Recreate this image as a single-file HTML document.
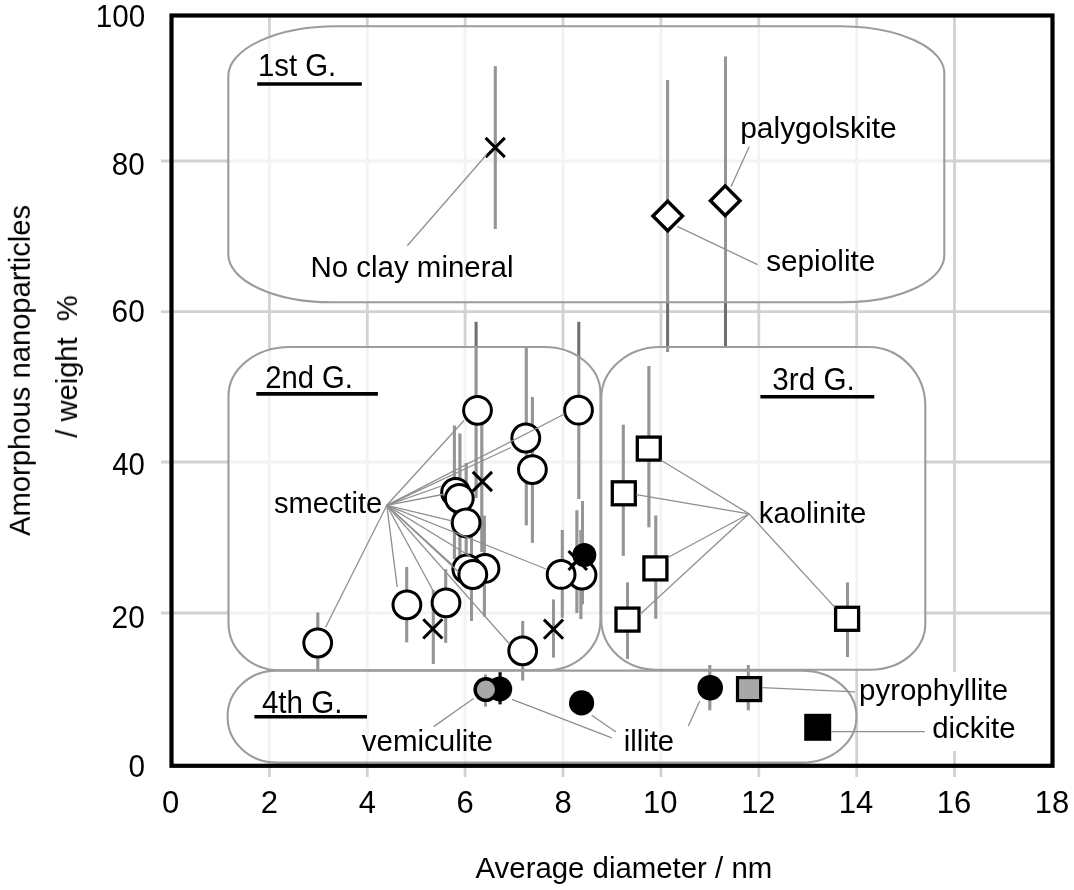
<!DOCTYPE html>
<html><head><meta charset="utf-8"><style>
html,body{margin:0;padding:0;background:#fff;}
body{width:1074px;height:890px;position:relative;overflow:hidden;}
</style></head><body>
<svg width="1074" height="890" viewBox="0 0 1074 890" style="position:absolute;left:0;top:0;filter:blur(0.45px)"><defs><clipPath id="bx"><path d="M336.3,26.2 L840.3,26.2 A104,47 0 0 1 944.3,73.2 L944.3,255.3 A101,47 0 0 1 843.3,302.3 L331.3,302.3 A103,48 0 0 1 228.3,254.3 L228.3,76.2 A108,50 0 0 1 336.3,26.2Z"/><path d="M289.5,347.0 L544.4,347.0 A56,46 0 0 1 600.4,393.0 L600.4,620.3 A55,50 0 0 1 545.4,670.3 L279.5,670.3 A51,47 0 0 1 228.5,623.3 L228.5,396.0 A61,49 0 0 1 289.5,347.0Z"/><path d="M660.3,347.0 L868.3,347.0 A57,59 0 0 1 925.3,406.0 L925.3,623.8 A55,46 0 0 1 870.3,669.8 L656.3,669.8 A55,50 0 0 1 601.3,619.8 L601.3,398.0 A59,51 0 0 1 660.3,347.0Z"/><path d="M276.6,670.6 L801.9,670.6 A54.5,45.5 0 0 1 856.4,716.1 L856.4,717.1 A54.5,45.5 0 0 1 801.9,762.6 L276.6,762.6 A49,45.5 0 0 1 227.6,717.1 L227.6,716.1 A49,45.5 0 0 1 276.6,670.6Z"/></clipPath></defs><g stroke="#d2d2d2" stroke-width="2.8"><line x1="161" y1="161.0" x2="1052.5" y2="161.0"/><line x1="161" y1="311.6" x2="1052.5" y2="311.6"/><line x1="161" y1="462.0" x2="1052.5" y2="462.0"/><line x1="161" y1="613.0" x2="1052.5" y2="613.0"/><line x1="269.4" y1="15.5" x2="269.4" y2="777"/><line x1="367.3" y1="15.5" x2="367.3" y2="777"/><line x1="465.1" y1="15.5" x2="465.1" y2="777"/><line x1="563.0" y1="15.5" x2="563.0" y2="777"/><line x1="660.9" y1="15.5" x2="660.9" y2="777"/><line x1="758.8" y1="15.5" x2="758.8" y2="777"/><line x1="856.7" y1="15.5" x2="856.7" y2="777"/><line x1="954.5" y1="15.5" x2="954.5" y2="777"/></g><g stroke="#6e6e6e" stroke-width="3"><line x1="495.3" y1="66.2" x2="495.3" y2="229.0"/><line x1="667.6" y1="80.0" x2="667.6" y2="352.0"/><line x1="725.5" y1="56.4" x2="725.5" y2="347.0"/><line x1="476.1" y1="321.8" x2="476.1" y2="498.0"/><line x1="481.8" y1="419.3" x2="481.8" y2="551.9"/><line x1="454.4" y1="425.6" x2="454.4" y2="559.0"/><line x1="459.9" y1="433.5" x2="459.9" y2="563.0"/><line x1="466.2" y1="463.0" x2="466.2" y2="583.0"/><line x1="471.5" y1="530.0" x2="471.5" y2="621.0"/><line x1="484.4" y1="515.7" x2="484.4" y2="616.5"/><line x1="445.7" y1="569.2" x2="445.7" y2="642.8"/><line x1="433.3" y1="590.0" x2="433.3" y2="664.1"/><line x1="406.7" y1="567.0" x2="406.7" y2="642.3"/><line x1="317.8" y1="612.4" x2="317.8" y2="671.4"/><line x1="526.3" y1="347.8" x2="526.3" y2="525.2"/><line x1="532.4" y1="396.9" x2="532.4" y2="542.7"/><line x1="578.8" y1="321.8" x2="578.8" y2="498.9"/><line x1="562.3" y1="529.9" x2="562.3" y2="617.8"/><line x1="580.9" y1="530.0" x2="580.9" y2="619.1"/><line x1="582.5" y1="500.9" x2="582.5" y2="604.3"/><line x1="576.9" y1="510.3" x2="576.9" y2="613.0"/><line x1="553.5" y1="599.5" x2="553.5" y2="657.5"/><line x1="522.7" y1="621.1" x2="522.7" y2="680.4"/><line x1="648.9" y1="366.0" x2="648.9" y2="527.2"/><line x1="623.3" y1="424.8" x2="623.3" y2="555.8"/><line x1="655.8" y1="515.6" x2="655.8" y2="618.8"/><line x1="627.5" y1="582.5" x2="627.5" y2="659.0"/><line x1="847.5" y1="582.5" x2="847.5" y2="657.0"/><line x1="485.5" y1="674.6" x2="485.5" y2="706.6"/><line x1="500.1" y1="672.3" x2="500.1" y2="704.3"/><line x1="709.8" y1="665.0" x2="709.8" y2="710.3"/><line x1="748.3" y1="665.0" x2="748.3" y2="710.3"/></g><g fill="#ffffff" fill-opacity="0.73"><path d="M336.3,26.2 L840.3,26.2 A104,47 0 0 1 944.3,73.2 L944.3,255.3 A101,47 0 0 1 843.3,302.3 L331.3,302.3 A103,48 0 0 1 228.3,254.3 L228.3,76.2 A108,50 0 0 1 336.3,26.2Z"/><path d="M289.5,347.0 L544.4,347.0 A56,46 0 0 1 600.4,393.0 L600.4,620.3 A55,50 0 0 1 545.4,670.3 L279.5,670.3 A51,47 0 0 1 228.5,623.3 L228.5,396.0 A61,49 0 0 1 289.5,347.0Z"/><path d="M660.3,347.0 L868.3,347.0 A57,59 0 0 1 925.3,406.0 L925.3,623.8 A55,46 0 0 1 870.3,669.8 L656.3,669.8 A55,50 0 0 1 601.3,619.8 L601.3,398.0 A59,51 0 0 1 660.3,347.0Z"/><path d="M276.6,670.6 L801.9,670.6 A54.5,45.5 0 0 1 856.4,716.1 L856.4,717.1 A54.5,45.5 0 0 1 801.9,762.6 L276.6,762.6 A49,45.5 0 0 1 227.6,717.1 L227.6,716.1 A49,45.5 0 0 1 276.6,670.6Z"/></g><g stroke="#959595" stroke-width="3" clip-path="url(#bx)"><line x1="495.3" y1="66.2" x2="495.3" y2="229.0"/><line x1="667.6" y1="80.0" x2="667.6" y2="352.0"/><line x1="725.5" y1="56.4" x2="725.5" y2="347.0"/><line x1="476.1" y1="321.8" x2="476.1" y2="498.0"/><line x1="481.8" y1="419.3" x2="481.8" y2="551.9"/><line x1="454.4" y1="425.6" x2="454.4" y2="559.0"/><line x1="459.9" y1="433.5" x2="459.9" y2="563.0"/><line x1="466.2" y1="463.0" x2="466.2" y2="583.0"/><line x1="471.5" y1="530.0" x2="471.5" y2="621.0"/><line x1="484.4" y1="515.7" x2="484.4" y2="616.5"/><line x1="445.7" y1="569.2" x2="445.7" y2="642.8"/><line x1="433.3" y1="590.0" x2="433.3" y2="664.1"/><line x1="406.7" y1="567.0" x2="406.7" y2="642.3"/><line x1="317.8" y1="612.4" x2="317.8" y2="671.4"/><line x1="526.3" y1="347.8" x2="526.3" y2="525.2"/><line x1="532.4" y1="396.9" x2="532.4" y2="542.7"/><line x1="578.8" y1="321.8" x2="578.8" y2="498.9"/><line x1="562.3" y1="529.9" x2="562.3" y2="617.8"/><line x1="580.9" y1="530.0" x2="580.9" y2="619.1"/><line x1="582.5" y1="500.9" x2="582.5" y2="604.3"/><line x1="576.9" y1="510.3" x2="576.9" y2="613.0"/><line x1="553.5" y1="599.5" x2="553.5" y2="657.5"/><line x1="522.7" y1="621.1" x2="522.7" y2="680.4"/><line x1="648.9" y1="366.0" x2="648.9" y2="527.2"/><line x1="623.3" y1="424.8" x2="623.3" y2="555.8"/><line x1="655.8" y1="515.6" x2="655.8" y2="618.8"/><line x1="627.5" y1="582.5" x2="627.5" y2="659.0"/><line x1="847.5" y1="582.5" x2="847.5" y2="657.0"/><line x1="485.5" y1="674.6" x2="485.5" y2="706.6"/><line x1="500.1" y1="672.3" x2="500.1" y2="704.3"/><line x1="709.8" y1="665.0" x2="709.8" y2="710.3"/><line x1="748.3" y1="665.0" x2="748.3" y2="710.3"/></g><g fill="none" stroke="#9c9c9c" stroke-width="2.1"><path d="M336.3,26.2 L840.3,26.2 A104,47 0 0 1 944.3,73.2 L944.3,255.3 A101,47 0 0 1 843.3,302.3 L331.3,302.3 A103,48 0 0 1 228.3,254.3 L228.3,76.2 A108,50 0 0 1 336.3,26.2Z"/><path d="M289.5,347.0 L544.4,347.0 A56,46 0 0 1 600.4,393.0 L600.4,620.3 A55,50 0 0 1 545.4,670.3 L279.5,670.3 A51,47 0 0 1 228.5,623.3 L228.5,396.0 A61,49 0 0 1 289.5,347.0Z"/><path d="M660.3,347.0 L868.3,347.0 A57,59 0 0 1 925.3,406.0 L925.3,623.8 A55,46 0 0 1 870.3,669.8 L656.3,669.8 A55,50 0 0 1 601.3,619.8 L601.3,398.0 A59,51 0 0 1 660.3,347.0Z"/><path d="M276.6,670.6 L801.9,670.6 A54.5,45.5 0 0 1 856.4,716.1 L856.4,717.1 A54.5,45.5 0 0 1 801.9,762.6 L276.6,762.6 A49,45.5 0 0 1 227.6,717.1 L227.6,716.1 A49,45.5 0 0 1 276.6,670.6Z"/></g><rect x="171.5" y="15.5" width="881.0" height="750.3" fill="none" stroke="#000" stroke-width="4.2"/><rect x="858" y="672" width="157" height="40" fill="#fff"/><rect x="926" y="712" width="94" height="39" fill="#fff"/><path d="M485.59999999999997,137.9 L504.8,157.1 M504.8,137.9 L485.59999999999997,157.1" stroke="#000" stroke-width="3.0"/><path d="M472.79999999999995,471.9 L492.0,491.1 M492.0,471.9 L472.79999999999995,491.1" stroke="#000" stroke-width="3.0"/><path d="M423.2,619.3 L442.40000000000003,638.5 M442.40000000000003,619.3 L423.2,638.5" stroke="#000" stroke-width="3.0"/><path d="M543.9,619.6 L563.1,638.8000000000001 M563.1,619.6 L543.9,638.8000000000001" stroke="#000" stroke-width="3.0"/><circle cx="477.5" cy="410.3" r="13.9" fill="#fff" stroke="#000" stroke-width="3.0"/><circle cx="578.5" cy="410.2" r="13.9" fill="#fff" stroke="#000" stroke-width="3.0"/><circle cx="525.8" cy="438.0" r="13.9" fill="#fff" stroke="#000" stroke-width="3.0"/><circle cx="532.4" cy="469.6" r="13.9" fill="#fff" stroke="#000" stroke-width="3.0"/><circle cx="455.6" cy="492.4" r="13.9" fill="#fff" stroke="#000" stroke-width="3.0"/><circle cx="459.3" cy="498.3" r="13.9" fill="#fff" stroke="#000" stroke-width="3.0"/><circle cx="466.1" cy="522.8" r="13.9" fill="#fff" stroke="#000" stroke-width="3.0"/><circle cx="485.0" cy="568.4" r="13.9" fill="#fff" stroke="#000" stroke-width="3.0"/><circle cx="466.8" cy="569.0" r="13.9" fill="#fff" stroke="#000" stroke-width="3.0"/><circle cx="472.8" cy="574.5" r="13.9" fill="#fff" stroke="#000" stroke-width="3.0"/><circle cx="446.0" cy="602.8" r="13.9" fill="#fff" stroke="#000" stroke-width="3.0"/><circle cx="406.9" cy="604.8" r="13.9" fill="#fff" stroke="#000" stroke-width="3.0"/><circle cx="317.7" cy="643.0" r="13.9" fill="#fff" stroke="#000" stroke-width="3.0"/><circle cx="582.0" cy="575.0" r="13.9" fill="#fff" stroke="#000" stroke-width="3.0"/><circle cx="561.1" cy="574.4" r="13.9" fill="#fff" stroke="#000" stroke-width="3.0"/><circle cx="522.7" cy="650.8" r="13.9" fill="#fff" stroke="#000" stroke-width="3.0"/><path d="M568.5,551 L587,570 M587,551 L568.5,570" stroke="#000" stroke-width="3.0"/><circle cx="584.3" cy="555.0" r="12.0" fill="#000"/><path d="M667.7,201.2 L682.5,216.0 L667.7,230.8 L652.9000000000001,216.0Z" fill="#fff" stroke="#000" stroke-width="3.4" stroke-linejoin="miter"/><path d="M725.2,185.89999999999998 L740.0,200.7 L725.2,215.5 L710.4000000000001,200.7Z" fill="#fff" stroke="#000" stroke-width="3.4" stroke-linejoin="miter"/><rect x="637.3" y="437.1" width="23.0" height="23.0" fill="#fff" stroke="#000" stroke-width="3.3"/><rect x="612.3" y="481.8" width="23.0" height="23.0" fill="#fff" stroke="#000" stroke-width="3.3"/><rect x="643.9" y="556.9" width="23.0" height="23.0" fill="#fff" stroke="#000" stroke-width="3.3"/><rect x="616.0" y="608.1" width="23.0" height="23.0" fill="#fff" stroke="#000" stroke-width="3.3"/><rect x="835.6" y="607.3" width="23.0" height="23.0" fill="#fff" stroke="#000" stroke-width="3.3"/><line x1="500.1" y1="672.3" x2="500.1" y2="704.3" stroke="#111" stroke-width="3"/><circle cx="499.8" cy="689.0" r="12.4" fill="#000"/><circle cx="485.9" cy="689.6" r="10.8" fill="#a8a8a8" stroke="#000" stroke-width="3.4"/><circle cx="581.6" cy="702.9" r="12.6" fill="#000"/><circle cx="710.2" cy="687.7" r="12.8" fill="#000"/><rect x="737.5" y="677.6" width="23.2" height="23.0" fill="#a8a8a8" stroke="#000" stroke-width="3.2"/><rect x="804.2" y="713.8" width="27.0" height="27.0" fill="#000"/><g stroke="#8f8f8f" stroke-width="1.3"><line x1="486.5" y1="154.8" x2="407.3" y2="245.8"/><line x1="731.0" y1="186.8" x2="749.3" y2="146.4"/><line x1="677.2" y1="226.4" x2="757.5" y2="264.6"/><line x1="831.2" y1="731.6" x2="924.8" y2="731.6"/><line x1="762.5" y1="687.7" x2="855.0" y2="691.9"/><line x1="473.5" y1="698.5" x2="433.7" y2="726.6"/><line x1="512.0" y1="699.4" x2="611.8" y2="737.9"/><line x1="591.7" y1="715.3" x2="616.0" y2="732.0"/><line x1="699.7" y1="701.0" x2="688.3" y2="726.2"/><line x1="386.8" y1="505.3" x2="464.0" y2="420.5"/><line x1="386.8" y1="505.3" x2="511.0" y2="447.5"/><line x1="386.8" y1="505.3" x2="564.5" y2="414.0"/><line x1="386.8" y1="505.3" x2="441.5" y2="486.0"/><line x1="386.8" y1="505.3" x2="445.0" y2="494.0"/><line x1="386.8" y1="505.3" x2="451.7" y2="520.9"/><line x1="386.8" y1="505.3" x2="452.5" y2="565.0"/><line x1="386.8" y1="505.3" x2="458.5" y2="572.0"/><line x1="386.8" y1="505.3" x2="470.5" y2="556.5"/><line x1="386.8" y1="505.3" x2="546.0" y2="569.0"/><line x1="386.8" y1="505.3" x2="509.5" y2="644.0"/><line x1="386.8" y1="505.3" x2="397.2" y2="587.2"/><line x1="386.8" y1="505.3" x2="433.0" y2="590.5"/><line x1="386.8" y1="505.3" x2="325.6" y2="627.3"/><line x1="749.0" y1="513.8" x2="661.1" y2="460.3"/><line x1="749.0" y1="513.8" x2="636.3" y2="494.7"/><line x1="749.0" y1="513.8" x2="668.8" y2="557.0"/><line x1="749.0" y1="513.8" x2="640.1" y2="614.3"/><line x1="749.0" y1="513.8" x2="834.9" y2="607.4"/></g><g stroke="#000" stroke-width="3.6"><line x1="257.2" y1="84.0" x2="361.8" y2="84.0"/><line x1="256.3" y1="393.9" x2="377.9" y2="393.9"/><line x1="760.4" y1="396.8" x2="874.3" y2="396.8"/><line x1="254.4" y1="716.8" x2="367.0" y2="716.8"/></g><g style="will-change:transform" font-family='"Liberation Sans", sans-serif' font-size="29.8" fill="#000"><text x="95.74" y="27.2" textLength="49.41" lengthAdjust="spacingAndGlyphs" xml:space="preserve" font-size="31" >100</text><text x="111.81" y="174.5" textLength="32.94" lengthAdjust="spacingAndGlyphs" xml:space="preserve" font-size="31" >80</text><text x="111.59" y="321.6" textLength="33.18" lengthAdjust="spacingAndGlyphs" xml:space="preserve" font-size="31" >60</text><text x="112.13" y="474.7" textLength="32.62" lengthAdjust="spacingAndGlyphs" xml:space="preserve" font-size="31" >40</text><text x="111.60" y="627.6" textLength="33.16" lengthAdjust="spacingAndGlyphs" xml:space="preserve" font-size="31" >20</text><text x="128.44" y="776.8" textLength="16.52" lengthAdjust="spacingAndGlyphs" xml:space="preserve" font-size="31" >0</text><text x="162.08" y="813.2" font-size="31">0</text><text x="260.76" y="813.2" font-size="31">2</text><text x="358.74" y="813.2" font-size="31">4</text><text x="456.41" y="813.2" font-size="31">6</text><text x="554.40" y="813.2" font-size="31">8</text><text x="643.08" y="813.2" font-size="31">10</text><text x="741.14" y="813.2" font-size="31">12</text><text x="838.69" y="813.2" font-size="31">14</text><text x="936.80" y="813.2" font-size="31">16</text><text x="1034.67" y="813.2" font-size="31">18</text><text x="475.54" y="877.6" textLength="296.69" lengthAdjust="spacingAndGlyphs" xml:space="preserve" font-size="29.8" >Average diameter / nm</text><text x="0" y="0" transform="translate(29.8,535.96) rotate(-90)" textLength="331.11" lengthAdjust="spacingAndGlyphs" xml:space="preserve" font-size="29.8">Amorphous nanoparticles</text><text x="0" y="0" transform="translate(77.0,437.70) rotate(-90)" textLength="142.54" lengthAdjust="spacingAndGlyphs" xml:space="preserve" font-size="29.8">/ weight  %</text><text x="257.96" y="76.0" textLength="78.32" lengthAdjust="spacingAndGlyphs" xml:space="preserve" font-size="30.5" >1st G.</text><text x="265.13" y="388.0" textLength="87.84" lengthAdjust="spacingAndGlyphs" xml:space="preserve" font-size="30.5" >2nd G.</text><text x="772.27" y="390.0" textLength="82.44" lengthAdjust="spacingAndGlyphs" xml:space="preserve" font-size="30.5" >3rd G.</text><text x="261.92" y="712.6" textLength="80.58" lengthAdjust="spacingAndGlyphs" xml:space="preserve" font-size="30.5" >4th G.</text><text x="310.38" y="277.4" textLength="203.09" lengthAdjust="spacingAndGlyphs" xml:space="preserve" font-size="29.8" >No clay mineral</text><text x="740.17" y="138.2" textLength="156.56" lengthAdjust="spacingAndGlyphs" xml:space="preserve" font-size="29.8" >palygolskite</text><text x="766.17" y="271.0" textLength="109.15" lengthAdjust="spacingAndGlyphs" xml:space="preserve" font-size="29.8" >sepiolite</text><text x="273.89" y="512.8" textLength="108.30" lengthAdjust="spacingAndGlyphs" xml:space="preserve" font-size="29.8" >smectite</text><text x="758.82" y="522.7" textLength="107.58" lengthAdjust="spacingAndGlyphs" xml:space="preserve" font-size="29.8" >kaolinite</text><text x="859.00" y="700.0" textLength="149.11" lengthAdjust="spacingAndGlyphs" xml:space="preserve" font-size="29.8" >pyrophyllite</text><text x="932.17" y="738.4" textLength="83.34" lengthAdjust="spacingAndGlyphs" xml:space="preserve" font-size="29.8" >dickite</text><text x="361.70" y="750.5" textLength="131.31" lengthAdjust="spacingAndGlyphs" xml:space="preserve" font-size="29.8" >vemiculite</text><text x="623.64" y="750.5" textLength="50.46" lengthAdjust="spacingAndGlyphs" xml:space="preserve" font-size="29.8" >illite</text></g></svg>
</body></html>
